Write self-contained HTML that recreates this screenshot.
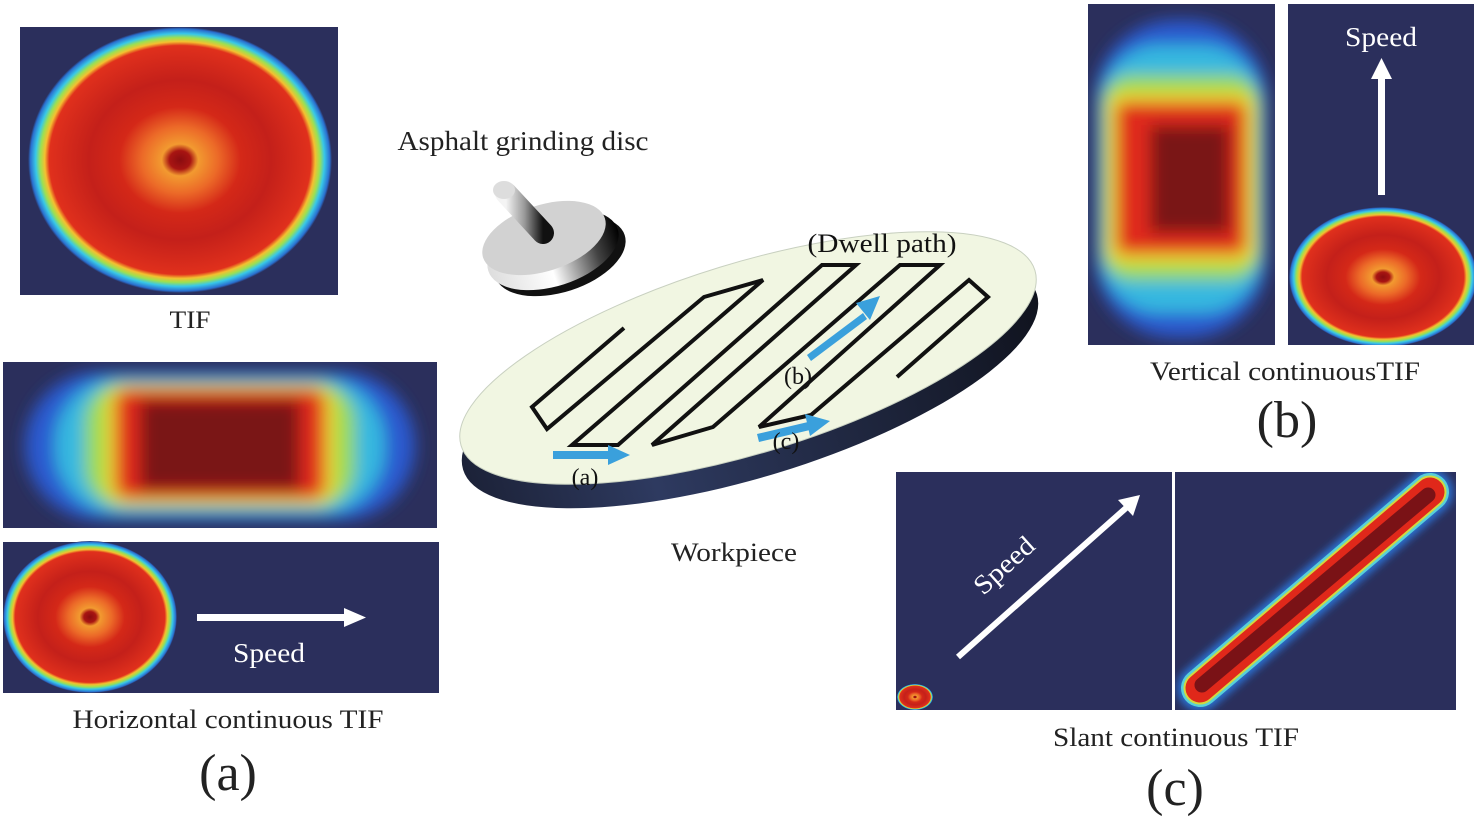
<!DOCTYPE html>
<html><head><meta charset="utf-8"><style>
html,body{margin:0;padding:0;background:#fff;}
svg{display:block;font-family:"Liberation Serif",serif;}
</style></head><body>
<svg width="1476" height="819" viewBox="0 0 1476 819" xmlns="http://www.w3.org/2000/svg">
<defs>
<radialGradient id="disc" cx="0.5" cy="0.5" r="0.5">
<stop offset="0" stop-color="#8a0c10"/>
<stop offset="0.07" stop-color="#a81512"/>
<stop offset="0.12" stop-color="#f29a30"/>
<stop offset="0.25" stop-color="#ec6a28"/>
<stop offset="0.4" stop-color="#d42818"/>
<stop offset="0.6" stop-color="#c4201a"/>
<stop offset="0.86" stop-color="#e0301c"/>
<stop offset="0.89" stop-color="#f4c030"/>
<stop offset="0.92" stop-color="#9ee050"/>
<stop offset="0.95" stop-color="#38c8e8"/>
<stop offset="0.985" stop-color="#2a70d0"/>
<stop offset="1" stop-color="#2b2f5c"/>
</radialGradient>
<filter id="b8" x="-20%" y="-20%" width="140%" height="140%"><feGaussianBlur stdDeviation="8"/></filter>
<filter id="b4" x="-20%" y="-20%" width="140%" height="140%"><feGaussianBlur stdDeviation="4"/></filter>
<linearGradient id="side" x1="0" x2="1" y1="0" y2="0">
<stop offset="0" stop-color="#1c2238"/><stop offset="0.3" stop-color="#2e3a60"/><stop offset="1" stop-color="#10131e"/>
</linearGradient>
<linearGradient id="shaft" x1="0" x2="1" y1="0" y2="0">
<stop offset="0" stop-color="#f4f4f4"/><stop offset="0.5" stop-color="#999"/><stop offset="1" stop-color="#111"/>
</linearGradient>
<linearGradient id="puck" x1="0" x2="1" y1="0" y2="0">
<stop offset="0" stop-color="#ddd"/><stop offset="0.45" stop-color="#fff"/><stop offset="0.8" stop-color="#444"/><stop offset="1" stop-color="#000"/>
</linearGradient>
<clipPath id="cH"><rect x="3" y="362" width="434" height="166"/></clipPath>
<clipPath id="cV"><rect x="1088" y="4" width="187" height="341"/></clipPath>
<clipPath id="cS"><rect x="1175" y="472" width="281" height="238"/></clipPath>
<clipPath id="cT"><rect x="20" y="27" width="318" height="268"/></clipPath>
<clipPath id="cR"><rect x="1288" y="4" width="186" height="341"/></clipPath>
</defs>

<rect x="20" y="27" width="318" height="268" fill="#2b2f5c"/>
<ellipse clip-path="url(#cT)" cx="180" cy="160" rx="152" ry="133" fill="url(#disc)"/>
<text x="190" y="328" font-size="25" text-anchor="middle" fill="#222" textLength="41" lengthAdjust="spacingAndGlyphs">TIF</text>

<rect x="3" y="362" width="434" height="166" fill="#2b2f5c"/>
<g clip-path="url(#cH)" filter="url(#b8)">
<rect x="25" y="372" width="390" height="148" rx="74" fill="#2a5ad0"/>
<rect x="55" y="378" width="330" height="136" rx="64" fill="#34b8e0"/>
<rect x="85" y="382" width="270" height="126" rx="40" fill="#9adc50"/>
<rect x="105" y="386" width="230" height="118" rx="22" fill="#f0d830"/>
<rect x="115" y="389" width="210" height="110" rx="14" fill="#e02a1c"/>
<rect x="140" y="400" width="160" height="90" fill="#7a1216"/>
</g>

<rect x="3" y="542" width="436" height="151" fill="#2b2f5c"/>
<ellipse cx="90" cy="617" rx="87" ry="76" fill="url(#disc)"/>
<rect x="197" y="614" width="150" height="7" fill="#fff"/>
<polygon points="344,608 366,617.5 344,627" fill="#fff"/>
<text x="269" y="662" font-size="27" text-anchor="middle" fill="#fff" textLength="72" lengthAdjust="spacingAndGlyphs">Speed</text>
<text x="228" y="728" font-size="26" text-anchor="middle" fill="#222" textLength="311" lengthAdjust="spacingAndGlyphs">Horizontal continuous TIF</text>
<text x="228" y="790" font-size="52" text-anchor="middle" fill="#222">(a)</text>

<text x="523" y="150" font-size="27" text-anchor="middle" fill="#222" textLength="251" lengthAdjust="spacingAndGlyphs">Asphalt grinding disc</text>
<g>
<ellipse cx="560" cy="256" rx="68" ry="36" transform="rotate(-18 560 256)" fill="#111"/>
<ellipse cx="553" cy="250" rx="68" ry="36" transform="rotate(-18 553 250)" fill="url(#puck)"/>
<ellipse cx="544" cy="238" rx="64" ry="33" transform="rotate(-18 544 238)" fill="#d2d2d2"/>
<line x1="506" y1="193" x2="543" y2="233" stroke="url(#shaft)" stroke-width="22" stroke-linecap="round"/>
<ellipse cx="504" cy="190" rx="11" ry="9" fill="#ddd"/>
</g>

<ellipse cx="750" cy="382" rx="300" ry="95" transform="rotate(-17 750 382)" fill="url(#side)"/>
<ellipse cx="748" cy="358" rx="300" ry="95" transform="rotate(-17 748 358)" fill="#f1f6e2" stroke="#c8d0c0" stroke-width="1"/>
<polyline points="624,328 532,407 547,429 704,297 763,280 572,445 618,445 822,265 856,265 652,445 713,427 900,265 940,265 759,427 811,415 969,280 988,297 897,377" fill="none" stroke="#111" stroke-width="4" stroke-linejoin="miter"/>
<g fill="#3aa0dc">
<rect x="553" y="451" width="58" height="8"/><polygon points="608,445 630,455 608,465"/>
<polygon points="807,355 863,313 867,319 811,361"/><polygon points="856,303 880,296 870,320"/>
<polygon points="757,434 808,422 810,430 759,442"/><polygon points="805,414 830,421 810,436"/>
</g>
<text x="882" y="252" font-size="26" text-anchor="middle" fill="#111" textLength="149" lengthAdjust="spacingAndGlyphs">(Dwell path)</text>
<text x="798" y="384" font-size="24" text-anchor="middle" fill="#111">(b)</text>
<text x="786" y="449" font-size="24" text-anchor="middle" fill="#111">(c)</text>
<text x="585" y="485" font-size="24" text-anchor="middle" fill="#111">(a)</text>
<text x="734" y="561" font-size="26" text-anchor="middle" fill="#222" textLength="126" lengthAdjust="spacingAndGlyphs">Workpiece</text>

<rect x="1088" y="4" width="187" height="341" fill="#2b2f5c"/>
<g clip-path="url(#cV)" filter="url(#b8)">
<rect x="1095" y="20" width="172" height="318" rx="80" fill="#2a5ad0"/>
<rect x="1100" y="45" width="162" height="268" rx="60" fill="#34b8e0"/>
<rect x="1102" y="75" width="158" height="205" rx="30" fill="#9adc50"/>
<rect x="1108" y="92" width="146" height="172" rx="16" fill="#f0d830"/>
<rect x="1116" y="102" width="130" height="152" rx="10" fill="#e02a1c"/>
<rect x="1150" y="125" width="80" height="108" fill="#7a1216"/>
</g>
<rect x="1288" y="4" width="186" height="341" fill="#2b2f5c"/>
<ellipse clip-path="url(#cR)" cx="1383" cy="277" rx="94" ry="70" fill="url(#disc)"/>
<rect x="1378" y="78" width="7" height="117" fill="#fff"/>
<polygon points="1371,79 1381.5,58 1392,79" fill="#fff"/>
<text x="1381" y="46" font-size="27" text-anchor="middle" fill="#fff" textLength="72" lengthAdjust="spacingAndGlyphs">Speed</text>
<text x="1285" y="380" font-size="26" text-anchor="middle" fill="#222" textLength="270" lengthAdjust="spacingAndGlyphs">Vertical continuousTIF</text>
<text x="1287" y="437" font-size="52" text-anchor="middle" fill="#222">(b)</text>

<rect x="896" y="472" width="276" height="238" fill="#2b2f5c"/>
<ellipse cx="915" cy="697" rx="18" ry="13" fill="url(#disc)"/>
<line x1="958" y1="657" x2="1126" y2="508" stroke="#fff" stroke-width="6"/>
<polygon points="1118,500 1140,495 1133,516" fill="#fff"/>
<text x="1010" y="572" font-size="27" text-anchor="middle" fill="#fff" transform="rotate(-42 1010 572)" textLength="72" lengthAdjust="spacingAndGlyphs">Speed</text>
<rect x="1175" y="472" width="281" height="238" fill="#2b2f5c"/>
<g clip-path="url(#cS)">
<line x1="1200" y1="688" x2="1430" y2="492" stroke="#2a70d0" stroke-width="46" stroke-linecap="round" filter="url(#b4)"/>
<line x1="1200" y1="688" x2="1430" y2="492" stroke="#58d0d8" stroke-width="38" stroke-linecap="round"/>
<line x1="1200" y1="688" x2="1430" y2="492" stroke="#d0d840" stroke-width="33" stroke-linecap="round"/>
<line x1="1200" y1="688" x2="1430" y2="492" stroke="#e0281a" stroke-width="29" stroke-linecap="round"/>
<line x1="1202" y1="685" x2="1428" y2="495" stroke="#7a1216" stroke-width="15" stroke-linecap="round"/>
</g>
<text x="1176" y="746" font-size="26" text-anchor="middle" fill="#222" textLength="246" lengthAdjust="spacingAndGlyphs">Slant continuous TIF</text>
<text x="1175" y="805" font-size="52" text-anchor="middle" fill="#222">(c)</text>
</svg>
</body></html>
